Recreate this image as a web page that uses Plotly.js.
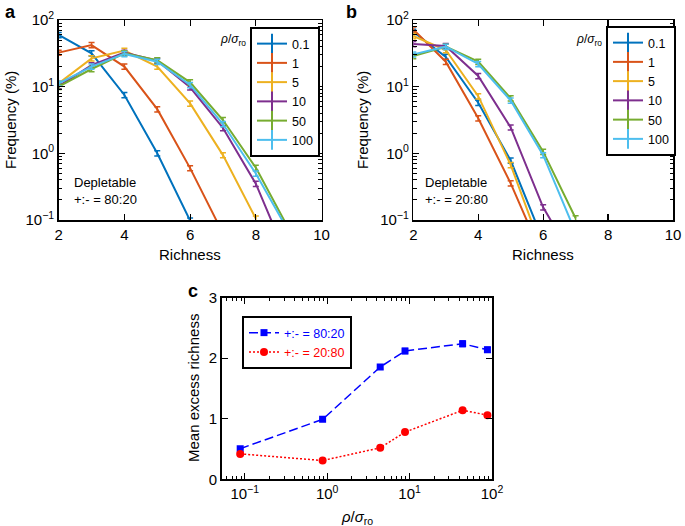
<!DOCTYPE html>
<html>
<head>
<meta charset="utf-8">
<script src="https://cdn.plot.ly/plotly-3.0.1.min.js"></script>
<style>html,body{margin:0;padding:0;background:#fff;} #chart{width:685px;height:526px;}</style>
</head>
<body>
<div id="chart"></div>
<script>
// ---------- data ----------
const richness = [2, 3, 4, 5, 6, 7, 8, 9];
const rhoLabels = ['0.1', '1', '5', '10', '50', '100'];
const colors = ['#0072BD', '#D95319', '#EDB120', '#7E2F8E', '#77AC30', '#4DBEEE'];

// panel a: +:- = 80:20
const a01  = [59.6, 31.6, 7.5, 1.0, 0.098];
const a1   = [32.4, 42, 20, 4.6, 0.6, 0.063];
const a5   = [11.2, 26.6, 34.7, 20, 5.6, 0.94, 0.105];
const a10  = [10.2, 21, 32.4, 24.5, 9.8, 2.4, 0.35, 0.024];
const a50  = [10, 18.4, 31.6, 25, 11.6, 3.16, 0.61, 0.074];
const a100 = [11.2, 20, 31, 23.7, 10.6, 2.75, 0.5, 0.067];

// panel b: +:- = 20:80
const b01  = [66.8, 28, 5.75, 0.78, 0.049];
const b1   = [72, 23.7, 3.35, 0.355, 0.027];
const b5   = [57.5, 35.5, 7.2, 0.67, 0.032];
const b10  = [43.7, 40.7, 14.5, 2.45, 0.155, 0.023];
const b50  = [28.8, 39.8, 23.7, 6.7, 1.06, 0.106];
const b100 = [30.5, 39.8, 21.9, 6.2, 0.94, 0.065];

// panel c
const rho = [0.088, 0.88, 4.4, 8.8, 44, 88];
const c8020 = [0.506, 0.99, 1.855, 2.12, 2.24, 2.14];
const c2080 = [0.42, 0.31, 0.52, 0.78, 1.14, 1.06];

const logTickVals = [0.1, 1, 10, 100];
const logTickText = ['10<sup>−1</sup>', '10<sup>0</sup>', '10<sup>1</sup>', '10<sup>2</sup>'];
const cTickVals = [0.1, 1, 10, 100];
const cTickText = ['10<sup>−1</sup>', '10<sup>0</sup>', '10<sup>1</sup>', '10<sup>2</sup>'];

// ---------- traces ----------
const FONT = 'Liberation Sans, Arial, Helvetica, sans-serif';
const traces = [];
function addPanel(series, xa, ya, leg) {
  series.forEach((vals, i) => {
    traces.push({
      x: richness.slice(0, vals.length), y: vals,
      xaxis: xa, yaxis: ya, type: 'scatter', mode: 'lines',
      line: {color: colors[i], width: 2},
      error_y: {type: 'percent', value: 9, color: colors[i], thickness: 1.5, width: 3},
      showlegend: false, hoverinfo: 'skip'
    });
  });
  rhoLabels.forEach((lab, i) => {
    traces.push({
      x: [null], y: [null], xaxis: xa, yaxis: ya, type: 'scatter', mode: 'lines+markers',
      name: lab, legend: leg,
      line: {color: colors[i], width: 2},
      marker: {symbol: 'line-ns-open', size: 14, color: colors[i], line: {color: colors[i], width: 2}}
    });
  });
}
addPanel([a01, a1, a5, a10, a50, a100], 'x', 'y', 'legend');
addPanel([b01, b1, b5, b10, b50, b100], 'x2', 'y2', 'legend2');

traces.push({
  x: rho, y: c8020, xaxis: 'x3', yaxis: 'y3', type: 'scatter', mode: 'lines+markers',
  name: '<span style="color:#0000FF">+:- = 80:20</span>', legend: 'legend3',
  line: {color: '#0000FF', width: 1.5, dash: '9px,4px'},
  marker: {symbol: 'square', size: 7, color: '#0000FF'},
  error_y: {type: 'percent', value: 2, color: '#0000FF', thickness: 1.5, width: 3}
});
traces.push({
  x: rho, y: c2080, xaxis: 'x3', yaxis: 'y3', type: 'scatter', mode: 'lines+markers',
  name: '<span style="color:#FF0000">+:- = 20:80</span>', legend: 'legend3',
  line: {color: '#FF0000', width: 1.5, dash: '2px,2px'},
  marker: {symbol: 'circle', size: 8, color: '#FF0000'},
  error_y: {type: 'percent', value: 2, color: '#FF0000', thickness: 1.5, width: 3}
});

// ---------- layout ----------
const W = 685, H = 526;
const px = v => v / W, py = v => 1 - v / H;
const baseAxis = {
  showline: true, linecolor: 'black', linewidth: 1.5, mirror: 'allticks',
  ticks: 'inside', ticklen: 6, tickwidth: 1.2, tickcolor: 'black',
  showgrid: false, zeroline: false, tickfont: {size: 15, color: 'black', family: FONT}
};
function freqX(domain, anchor) {
  return Object.assign({}, baseAxis, {domain: domain, anchor: anchor, range: [2, 10], tickvals: [2, 4, 6, 8, 10]});
}
function freqY(domain, anchor) {
  return Object.assign({}, baseAxis, {
    domain: domain, anchor: anchor, type: 'log', range: [-1, 2],
    tickmode: 'array', tickvals: logTickVals, ticktext: logTickText,
    minor: {ticks: 'inside', ticklen: 3.5, tickwidth: 1, tickcolor: 'black', dtick: 'D1', showgrid: false}
  });
}
const legendBase = {
  bgcolor: 'white', bordercolor: 'black', borderwidth: 2,
  font: {size: 12.5, family: FONT, color: 'black'},
  xanchor: 'left', yanchor: 'top', xref: 'paper', yref: 'paper',
  tracegroupgap: 0, itemwidth: 30
};
const ann = (x, y, text, opts) => Object.assign({
  x: px(x), y: py(y), xref: 'paper', yref: 'paper', text: text, showarrow: false,
  xanchor: 'center', yanchor: 'middle',
  font: {size: 15, family: FONT, color: 'black'}
}, opts || {});

const layout = {
  width: W, height: H,
  margin: {l: 0, r: 0, t: 0, b: 0},
  paper_bgcolor: 'white', plot_bgcolor: 'white',
  font: {family: FONT, color: 'black'},
  xaxis: freqX([px(58.7), px(321.5)], 'y'),
  yaxis: freqY([py(220), py(20)], 'x'),
  xaxis2: freqX([px(413.3), px(673)], 'y2'),
  yaxis2: freqY([py(220), py(20)], 'x2'),
  xaxis3: Object.assign({}, baseAxis, {
    domain: [px(221.7), px(492)], anchor: 'y3', type: 'log', range: [-1.28, 2],
    tickmode: 'array', tickvals: cTickVals, ticktext: cTickText,
    minor: {ticks: 'inside', ticklen: 3.5, tickwidth: 1, tickcolor: 'black', dtick: 'D1', showgrid: false}
  }),
  yaxis3: Object.assign({}, baseAxis, {
    domain: [py(479.3), py(297.7)], anchor: 'x3', range: [0, 3], tickvals: [0, 1, 2, 3]
  }),
  legend: Object.assign({}, legendBase, {x: px(250), y: py(27)}),
  legend2: Object.assign({}, legendBase, {x: px(606), y: py(26)}),
  legend3: Object.assign({}, legendBase, {x: px(242), y: py(316)}),
  annotations: [
    ann(3, 12, '<b>a</b>', {xanchor: 'left', font: {size: 18, family: FONT, color: 'black'}}),
    ann(344, 12, '<b>b</b>', {xanchor: 'left', font: {size: 18, family: FONT, color: 'black'}}),
    ann(186, 291, '<b>c</b>', {xanchor: 'left', font: {size: 18, family: FONT, color: 'black'}}),
    ann(11, 120, 'Frequency (%)', {textangle: -90}),
    ann(363, 120, 'Frequency (%)', {textangle: -90}),
    ann(190, 254, 'Richness'),
    ann(543, 254, 'Richness'),
    ann(193, 388, 'Mean excess richness', {textangle: -90}),
    ann(357, 517, '<i>ρ</i>/<i>σ</i><sub>ro</sub>'),
    ann(248, 40, '<i>ρ</i>/<i>σ</i><sub>ro</sub>', {xanchor: 'right', font: {size: 12, family: FONT, color: 'black'}}),
    ann(604, 40, '<i>ρ</i>/<i>σ</i><sub>ro</sub>', {xanchor: 'right', font: {size: 12, family: FONT, color: 'black'}}),
    ann(72, 191, 'Depletable<br>+:- = 80:20', {xanchor: 'left', align: 'left', font: {size: 13, family: FONT, color: 'black'}}),
    ann(423, 191, 'Depletable<br>+:- = 20:80', {xanchor: 'left', align: 'left', font: {size: 13, family: FONT, color: 'black'}})
  ]
};

Plotly.newPlot('chart', traces, layout, {staticPlot: true, displayModeBar: false});
</script>
</body>
</html>
